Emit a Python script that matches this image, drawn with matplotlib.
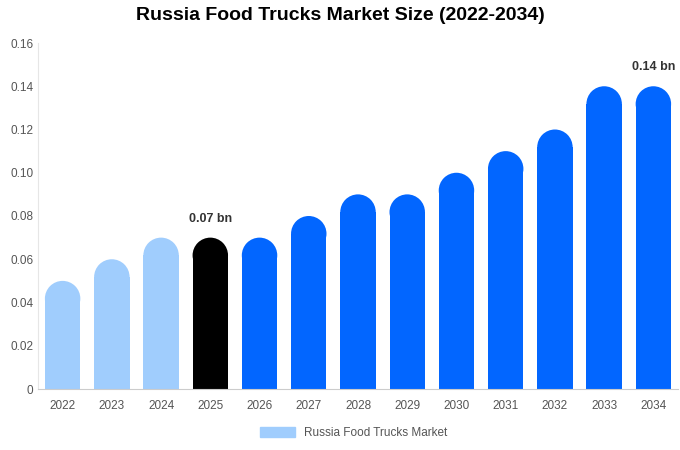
import matplotlib
matplotlib.use("Agg")
import matplotlib.pyplot as plt
from matplotlib.patches import Ellipse, Patch

years = ["2022","2023","2024","2025","2026","2027","2028","2029","2030","2031","2032","2033","2034"]
values = [0.05,0.06,0.07,0.07,0.07,0.08,0.09,0.09,0.10,0.11,0.12,0.14,0.14]
colors = ["#a0cdfd"]*3 + ["#000000"] + ["#0266ff"]*9
labels = {3: "0.07 bn", 12: "0.14 bn"}

plt.rcParams['font.family'] = ['Liberation Sans', 'DejaVu Sans']
fig = plt.figure(figsize=(6.8, 4.5), dpi=100)
ax = fig.add_axes([38/680, 61/450, 640/680, 346/450])
ax.set_ylim(0, 0.16)
ax.set_xlim(-0.5, len(years)-0.5)
w = 0.72
# radius in data units (pixels -> data)
r_px = w * 640/len(years) / 2
r = r_px * 0.16 / 346
x = list(range(len(years)))
ax.bar(x, [v - r for v in values], width=w, color=colors, zorder=2)
for i, v in enumerate(values):
    ax.add_patch(Ellipse((i, v - r), w, 2*r, color=colors[i], zorder=2, lw=0))
    if i in labels:
        ax.text(i, v + 0.006, labels[i], ha='center', va='bottom', fontsize=9, fontweight='bold', color='#333333')
ax.set_xticks(x)
ax.set_xticklabels(years)
ax.set_yticks([0,0.02,0.04,0.06,0.08,0.10,0.12,0.14,0.16])
ax.set_yticklabels(["0","0.02","0.04","0.06","0.08","0.10","0.12","0.14","0.16"])
ax.tick_params(axis='both', length=0, labelsize=8.5, colors='#555555')
ax.tick_params(axis='x', pad=8)
for s in ['top', 'right']:
    ax.spines[s].set_visible(False)
ax.spines['left'].set_color('#e6e6e6')
ax.spines['bottom'].set_color('#cccccc')
fig.suptitle("Russia Food Trucks Market Size (2022-2034)", y=0.985, fontsize=14, fontweight='bold')
fig.legend(handles=[Patch(color="#a0cdfd", label="Russia Food Trucks Market")], loc='lower center',
           bbox_to_anchor=(0.52, 0.0), frameon=False, fontsize=8.5, labelcolor='#555555',
           handlelength=3.0, handleheight=0.9)
fig.savefig("out.png", dpi=100)
